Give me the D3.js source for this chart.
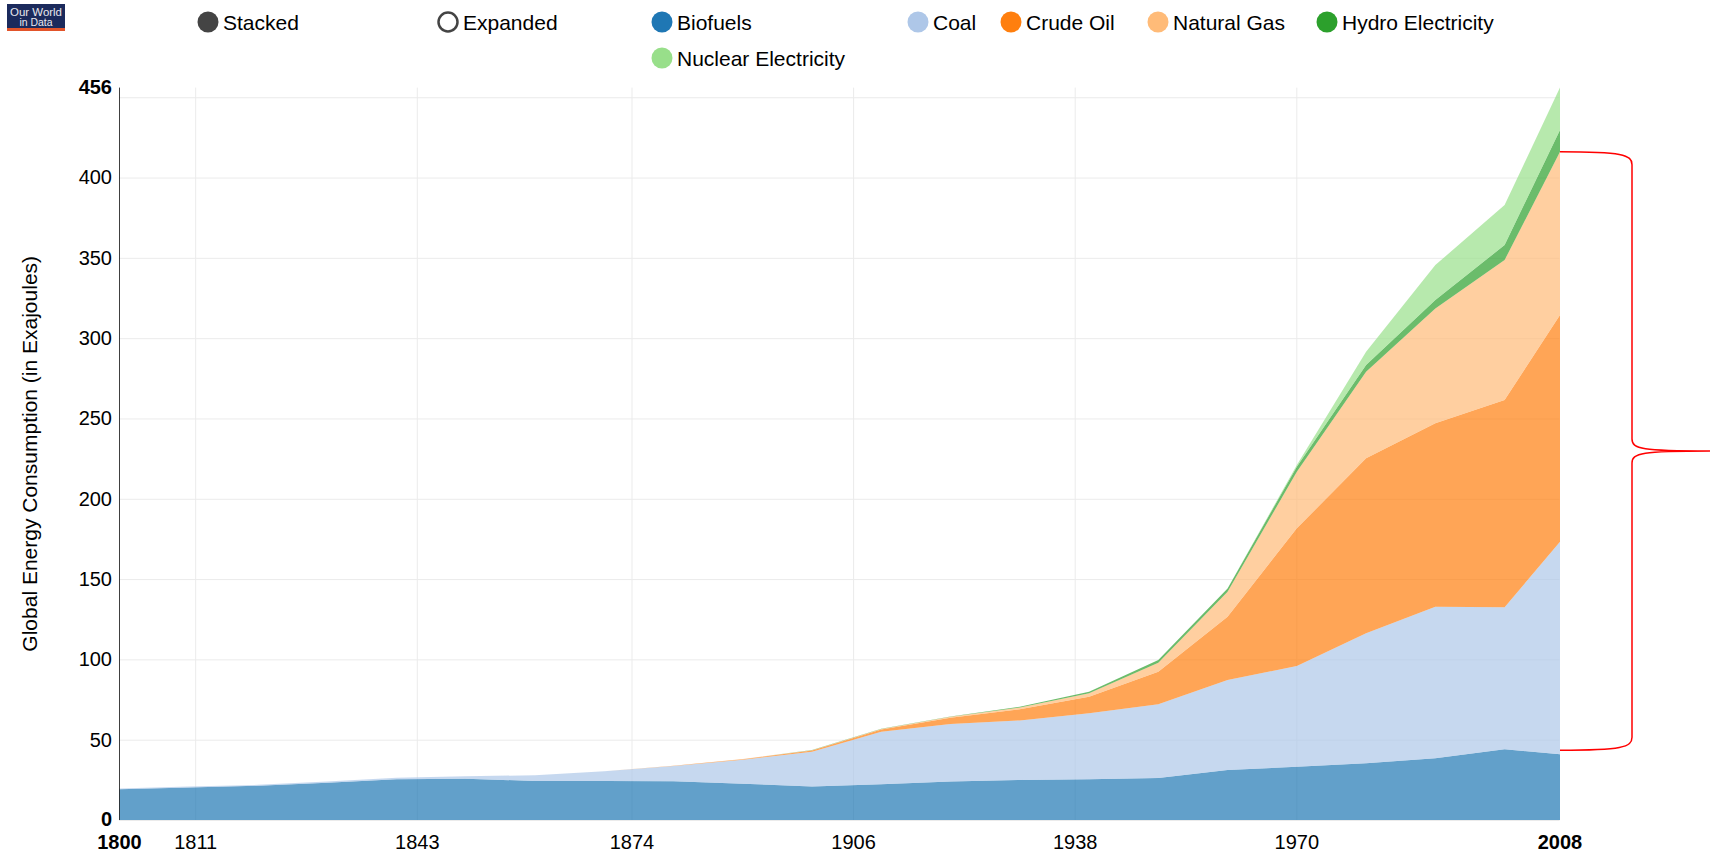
<!DOCTYPE html>
<html>
<head>
<meta charset="utf-8">
<script src="https://cdn.jsdelivr.net/npm/d3@7/dist/d3.min.js"></script>
<style>
    body { margin: 0; background: #fff; }
    svg { display: block; font-family: "Liberation Sans", Arial, sans-serif; }
</style>
</head>
<body>
<script>
const years = [1800, 1810, 1820, 1830, 1840, 1850, 1860, 1870, 1880, 1890, 1900,
    1910, 1920, 1930, 1940, 1950, 1960, 1970, 1980, 1990, 2000, 2008];
const biofuels = [19.2, 20.3, 21.3, 23.2, 25.3, 25.7, 24.3, 24.3, 24.2, 22.6, 20.8,
    22.2, 23.9, 24.9, 25.3, 26.1, 31.1, 33.2, 35.3, 38.4, 44.0, 40.9];
const coal = [0.4, 0.5, 0.6, 0.8, 1.0, 1.5, 3.6, 6.0, 9.4, 14.9, 21.7,
    32.8, 35.9, 37.1, 41.2, 45.9, 56.1, 62.7, 80.9, 94.4, 88.4, 132.4];
const crudeOil = [0, 0, 0, 0, 0, 0, 0, 0.1, 0.2, 0.4, 0.8,
    1.3, 3.9, 6.9, 10.3, 20.3, 39.4, 85.7, 109.0, 114.2, 129.1, 141.1];
const naturalGas = [0, 0, 0, 0, 0, 0, 0, 0, 0, 0.1, 0.2,
    0.4, 0.6, 1.2, 2.1, 5.6, 15.5, 35.2, 53.9, 71.5, 87.1, 101.7];
const hydro = [0, 0, 0, 0, 0, 0, 0, 0, 0, 0, 0.05,
    0.1, 0.2, 0.4, 1.0, 1.7, 2.1, 3.2, 4.2, 5.2, 9.4, 13.5];
const nuclear = [0, 0, 0, 0, 0, 0, 0, 0, 0, 0, 0,
    0, 0, 0, 0, 0, 0, 1.0, 8.2, 21.8, 24.9, 26.4];

const seriesNames = ["Biofuels", "Coal", "Crude Oil", "Natural Gas", "Hydro Electricity", "Nuclear Electricity"];
const seriesValues = [biofuels, coal, crudeOil, naturalGas, hydro, nuclear];
const controlNames = ["Stacked", "Expanded"];
const xTicks = [1811, 1843, 1874, 1906, 1938, 1970];
const yTicks = [0, 50, 100, 150, 200, 250, 300, 350, 400, 450];
const yTitle = "Global Energy Consumption (in Exajoules)";

const colors = ["#1f77b4", "#aec7e8", "#ff7f0e", "#ffbb78", "#2ca02c", "#98df8a"];
const legendPos = [[662, 22], [918, 22], [1011, 22], [1158, 22], [1327, 22], [662, 58]];
const controlPos = [[208, 22], [448, 22]];

const width = 1710;
const height = 856;
const plotLeft = 119.5, plotRight = 1560, plotTop = 87.6, plotBottom = 820;

const table = years.map((yr, i) => {
    const row = { year: yr };
    seriesNames.forEach((n, k) => row[n] = seriesValues[k][i]);
    return row;
});
const layers = d3.stack().keys(seriesNames)(table);
const yMax = d3.max(layers[layers.length - 1], d => d[1]);

const xScale = d3.scaleLinear().domain(d3.extent(years)).range([plotLeft, plotRight]);
const yScale = d3.scaleLinear().domain([0, yMax]).range([plotBottom, plotTop]);

const svg = d3.select("body").append("svg")
    .attr("width", width)
    .attr("height", height);

// logo
const logo = svg.append("g");
logo.append("rect").attr("x", 7).attr("y", 4).attr("width", 58).attr("height", 25).attr("fill", "#1b2a5c");
logo.append("rect").attr("x", 7).attr("y", 28).attr("width", 58).attr("height", 3).attr("fill", "#e2542a");
logo.append("text").attr("x", 36).attr("y", 15.5).attr("text-anchor", "middle")
    .attr("font-size", 11).attr("textLength", 52).attr("lengthAdjust", "spacingAndGlyphs")
    .attr("fill", "#e8e8ee").text("Our World");
logo.append("text").attr("x", 36).attr("y", 25.5).attr("text-anchor", "middle")
    .attr("font-size", 11).attr("textLength", 33).attr("lengthAdjust", "spacingAndGlyphs")
    .attr("fill", "#e8e8ee").text("in Data");

// controls + legend
const controls = svg.selectAll(".control").data(controlNames).enter().append("g")
    .attr("class", "control")
    .attr("transform", (d, i) => `translate(${controlPos[i][0]},${controlPos[i][1]})`);
controls.append("circle")
    .attr("r", (d, i) => i === 0 ? 10.5 : 9.5)
    .attr("fill", (d, i) => i === 0 ? "#444" : "#fff")
    .attr("stroke", "#444")
    .attr("stroke-width", (d, i) => i === 0 ? 0 : 2.5);
controls.append("text").attr("x", 15).attr("dy", "0.36em")
    .attr("font-size", 21).attr("fill", "#000").text(d => d);

const legend = svg.selectAll(".legend").data(seriesNames).enter().append("g")
    .attr("class", "legend")
    .attr("transform", (d, i) => `translate(${legendPos[i][0]},${legendPos[i][1]})`);
legend.append("circle").attr("r", 10.5).attr("fill", (d, i) => colors[i]);
legend.append("text").attr("x", 15).attr("dy", "0.36em")
    .attr("font-size", 21).attr("fill", "#000").text(d => d);

// axes with grid
const xAxis = d3.axisBottom(xScale)
    .tickValues(xTicks)
    .tickFormat(d3.format("d"))
    .tickSizeInner(-(plotBottom - plotTop))
    .tickSizeOuter(0)
    .tickPadding(15);

const gx = svg.append("g")
    .attr("transform", `translate(-0.5, ${plotBottom})`)
    .call(xAxis);
gx.select(".domain").remove();
gx.selectAll(".tick line").attr("stroke", "#ebebeb");
gx.selectAll(".tick text").attr("font-size", 20).attr("fill", "#000").attr("font-family", null);

const yAxis = d3.axisLeft(yScale)
    .tickValues(yTicks)
    .tickFormat(d => (d === 0 || Math.abs(yScale(d) - yScale(yMax)) < 20) ? "" : d)
    .tickSizeInner(-(plotRight - plotLeft))
    .tickSizeOuter(0)
    .tickPadding(7);

const gy = svg.append("g")
    .attr("transform", `translate(${plotLeft - 0.5}, 0)`)
    .call(yAxis);
gy.select(".domain").remove();
gy.selectAll(".tick line").attr("stroke", "#ebebeb");
gy.selectAll(".tick text").attr("font-size", 20).attr("fill", "#000").attr("font-family", null);

// stacked areas
const area = d3.area()
    .x(d => xScale(d.data.year))
    .y0(d => yScale(d[0]))
    .y1(d => yScale(d[1]));

svg.append("g").selectAll("path")
    .data(layers)
    .enter()
    .append("path")
    .attr("d", area)
    .attr("fill", (d, i) => colors[i])
    .attr("fill-opacity", 0.7);

// y axis line
svg.append("line")
    .attr("x1", plotLeft).attr("x2", plotLeft)
    .attr("y1", yScale(0)).attr("y2", yScale(yMax))
    .attr("stroke", "#000").attr("stroke-opacity", 0.75);

// min / max labels
const xExt = d3.extent(years);
svg.selectAll(".xmaxmin").data(xExt).enter().append("text")
    .attr("x", d => xScale(d)).attr("y", plotBottom + 15).attr("dy", "0.71em")
    .attr("text-anchor", "middle").attr("font-size", 20).attr("font-weight", "bold")
    .text(d => d);
svg.selectAll(".ymaxmin").data([0, yMax]).enter().append("text")
    .attr("x", plotLeft - 7.5).attr("y", d => yScale(d)).attr("dy", "0.32em")
    .attr("text-anchor", "end").attr("font-size", 20).attr("font-weight", "bold")
    .text(d3.format(".0f"));

// y title
svg.append("text")
    .attr("transform", `translate(30, ${(plotTop + plotBottom) / 2}) rotate(-90)`)
    .attr("text-anchor", "middle").attr("dy", "0.35em")
    .attr("font-size", 21).attr("fill", "#000")
    .text(yTitle);

// red brace around fossil fuels at the last year
const lastIdx = years.length - 1;
const yT = yScale(layers[3][lastIdx][1]);
const yB = yScale(layers[0][lastIdx][1]) - 4;
const yM = (yT + yB) / 2;
const bx0 = plotRight, bx1 = 1632, bx2 = 1710;
svg.append("path")
    .attr("d", `M${bx0},${yT} C${bx1 - 10},${yT} ${bx1},${yT + 3} ${bx1},${yT + 13}` +
        ` L${bx1},${yM - 12} C${bx1},${yM - 2} ${bx1 + 10},${yM} ${bx2},${yM}` +
        ` C${bx1 + 10},${yM} ${bx1},${yM + 2} ${bx1},${yM + 12}` +
        ` L${bx1},${yB - 13} C${bx1},${yB - 3} ${bx1 - 10},${yB} ${bx0},${yB}`)
    .attr("fill", "none")
    .attr("stroke", "#ff0000")
    .attr("stroke-width", 1.5);
</script>
</body>
</html>
